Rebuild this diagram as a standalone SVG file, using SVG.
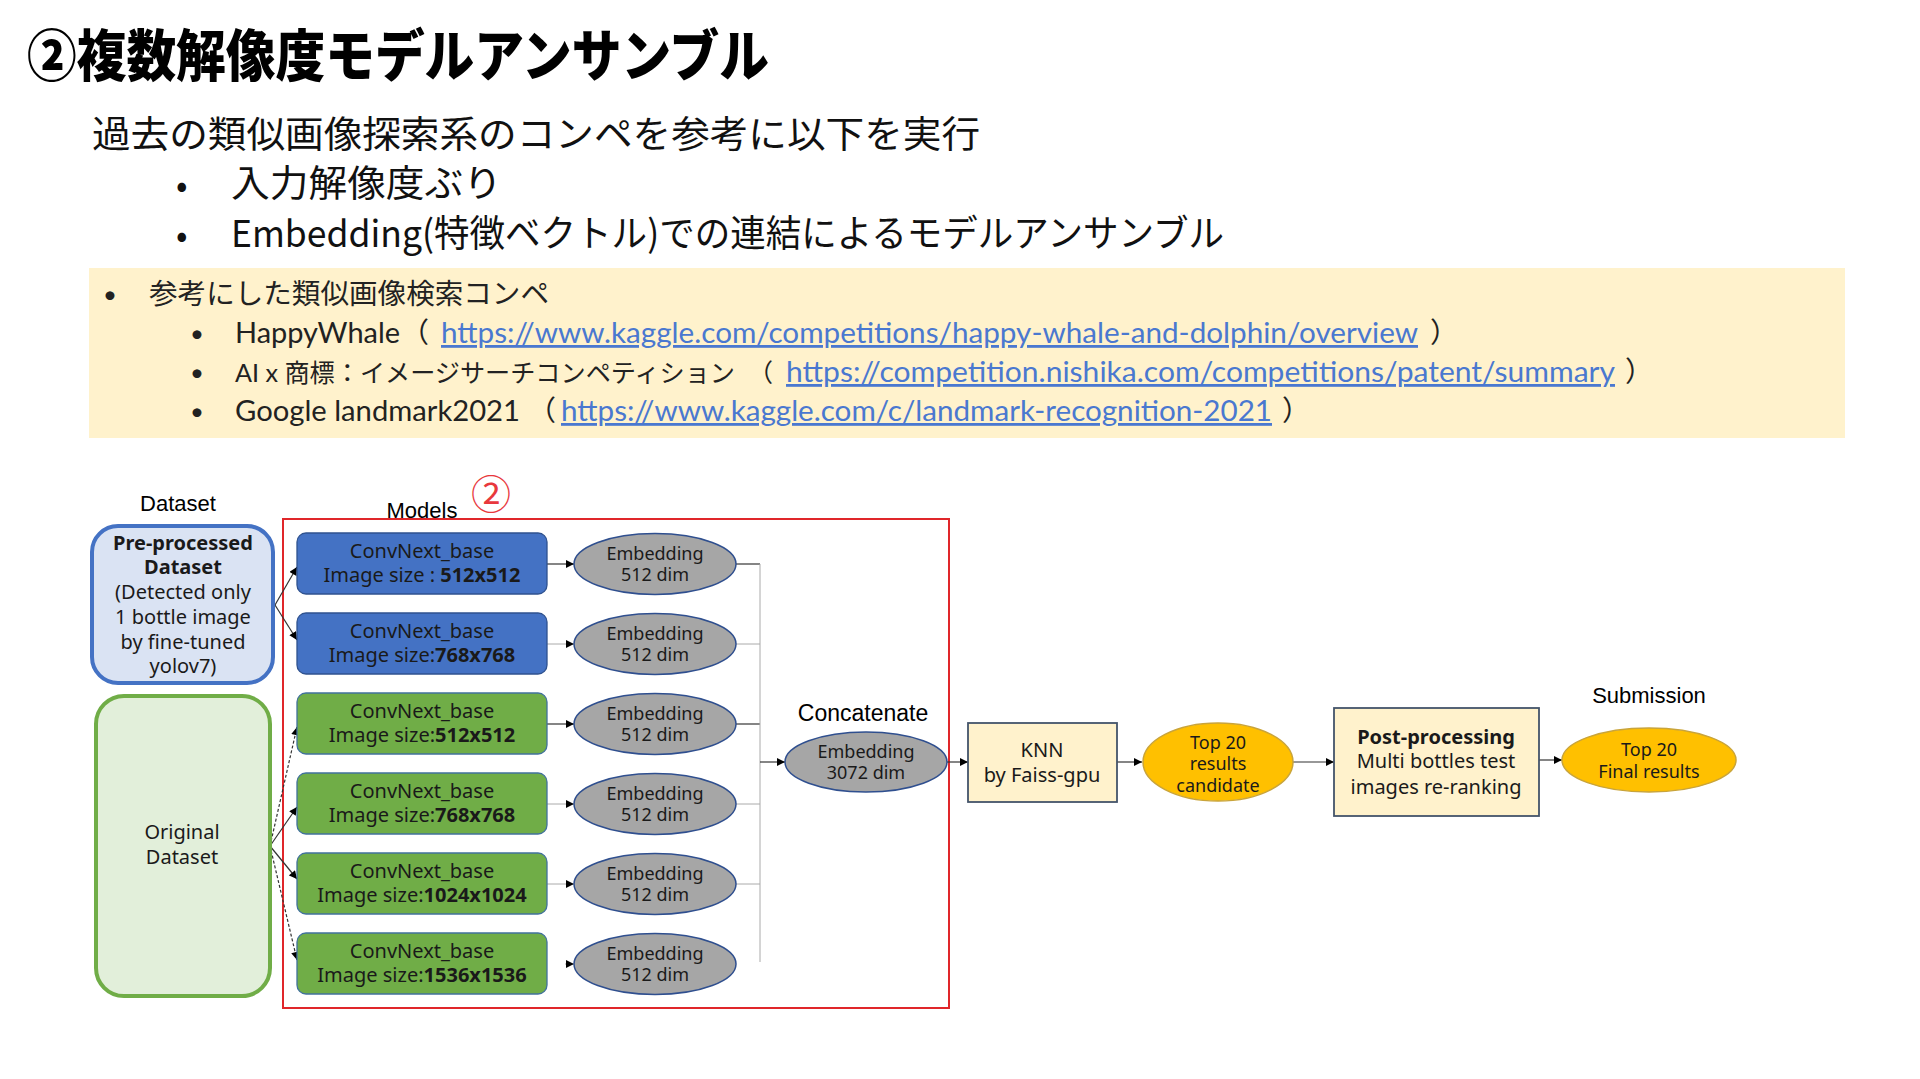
<svg xmlns="http://www.w3.org/2000/svg" width="1920" height="1079" viewBox="0 0 1920 1079">
<defs>
<style>
.jp{font-family:"Noto Sans CJK JP","Liberation Sans",sans-serif;}
.lt{font-family:"Lato","Noto Sans CJK JP",sans-serif;fill:#222;}
.ln{font-family:"Lato",sans-serif;fill:#4A78D0;text-decoration:underline;}
.ar{font-family:"Liberation Sans",Arial,sans-serif;fill:#000;}
.dg{font-family:"Noto Sans","Liberation Sans",sans-serif;fill:#1a1a1a;text-anchor:middle;}
.mb{stroke-width:1.3;}
.blue{fill:#4472C4;stroke:#2F528F;}
.green{fill:#70AD47;stroke:#41719C;}
.emb{fill:#A6A6A6;stroke:#2F4F8F;stroke-width:1.5;}
.cand{fill:#FFC000;stroke:#C9A43A;stroke-width:1.5;}
.pale{fill:#FFF2CC;stroke:#44546A;stroke-width:1.8;}
.con{fill:none;stroke:#333;stroke-width:1.2;}
.lite{fill:none;stroke:#aaa;stroke-width:1;}
.dash{fill:none;stroke:#333;stroke-width:1.2;stroke-dasharray:3 2;}
</style>
<marker id="ah" viewBox="0 0 10 10" refX="10" refY="5" markerWidth="9" markerHeight="8" markerUnits="userSpaceOnUse" orient="auto">
<path d="M0,0 L10,5 L0,10 z" fill="#000"/>
</marker>
</defs>
<rect width="1920" height="1079" fill="#fff"/>

<g id="header">
<text class="jp" x="27" y="76" font-size="56" font-weight="900" textLength="742" lengthAdjust="spacingAndGlyphs">②複数解像度モデルアンサンブル</text>
<text class="jp" x="92" y="148" font-size="37" fill="#111" textLength="888" lengthAdjust="spacingAndGlyphs">過去の類似画像探索系のコンペを参考に以下を実行</text>
<text class="jp" x="176" y="197" font-size="34" fill="#111">•</text>
<text class="jp" x="231" y="197" font-size="37" fill="#111" textLength="271" lengthAdjust="spacingAndGlyphs">入力解像度ぶり</text>
<text class="jp" x="176" y="247" font-size="34" fill="#111">•</text>
<text class="jp" x="231" y="247" font-size="37" fill="#111" textLength="993" lengthAdjust="spacingAndGlyphs">Embedding(特徴ベクトル)での連結によるモデルアンサンブル</text>
</g>

<g id="references">
<rect x="89" y="268" width="1756" height="170" fill="#FFF2CC"/>
<text class="lt" x="103" y="303" font-size="24">•</text>
<text class="lt" x="149" y="304" font-size="28" textLength="400" lengthAdjust="spacingAndGlyphs">参考にした類似画像検索コンペ</text>
<text class="lt" x="190" y="342" font-size="24">•</text>
<text class="lt" x="235" y="343" font-size="28" textLength="165" lengthAdjust="spacingAndGlyphs">HappyWhale</text>
<text class="lt" x="401" y="343" font-size="28">（</text>
<text class="ln" x="441" y="343" font-size="28" textLength="977" lengthAdjust="spacingAndGlyphs">https://www.kaggle.com/competitions/happy-whale-and-dolphin/overview</text>
<text class="lt" x="1430" y="343" font-size="28">）</text>
<text class="lt" x="190" y="381" font-size="24">•</text>
<text class="lt" x="235" y="382" font-size="25" textLength="500" lengthAdjust="spacingAndGlyphs">AI x 商標：イメージサーチコンペティション</text>
<text class="lt" x="748" y="382" font-size="25">（</text>
<text class="ln" x="786" y="382" font-size="28" textLength="829" lengthAdjust="spacingAndGlyphs">https://competition.nishika.com/competitions/patent/summary</text>
<text class="lt" x="1625" y="382" font-size="28">）</text>
<text class="lt" x="190" y="420" font-size="24">•</text>
<text class="lt" x="235" y="421" font-size="28" textLength="285" lengthAdjust="spacingAndGlyphs">Google landmark2021</text>
<text class="lt" x="528" y="421" font-size="28">（</text>
<text class="ln" x="561" y="421" font-size="28" textLength="711" lengthAdjust="spacingAndGlyphs">https://www.kaggle.com/c/landmark-recognition-2021</text>
<text class="lt" x="1282" y="421" font-size="28">）</text>
</g>

<g id="labels">
<text class="ar" x="178" y="511" font-size="22" text-anchor="middle">Dataset</text>
<text class="ar" x="422" y="518" font-size="22" text-anchor="middle">Models</text>
<text class="jp" x="491" y="509" font-size="40" fill="#E8383D" text-anchor="middle">②</text>
<text class="ar" x="863" y="721" font-size="23" text-anchor="middle">Concatenate</text>
<text class="ar" x="1649" y="703" font-size="22" text-anchor="middle">Submission</text>
</g>

<rect id="models-frame" x="283" y="519" width="666" height="489" fill="none" stroke="#E0262A" stroke-width="2"/>

<g id="connectors">
<path class="con" d="M275,605 L297,567" marker-end="url(#ah)"/>
<path class="con" d="M275,605 L297,640" marker-end="url(#ah)"/>
<path class="dash" d="M270,846 L297,727" marker-end="url(#ah)"/>
<path class="con" d="M270,846 L297,807" marker-end="url(#ah)"/>
<path class="con" d="M270,846 L297,879" marker-end="url(#ah)"/>
<path class="dash" d="M270,846 L297,960" marker-end="url(#ah)"/>
<path class="con" d="M547,564 L574,564" marker-end="url(#ah)"/>
<path class="lite" d="M547,644 L574,644" marker-end="url(#ah)"/>
<path class="con" d="M547,724 L574,724" marker-end="url(#ah)"/>
<path class="lite" d="M547,804 L574,804" marker-end="url(#ah)"/>
<path class="lite" d="M547,884 L574,884" marker-end="url(#ah)"/>
<path class="lite" d="M565,964 L574,964" marker-end="url(#ah)"/>
<path class="con" d="M736,564 L760,564"/>
<path class="lite" d="M736,644 L760,644"/>
<path class="con" d="M736,724 L760,724"/>
<path class="lite" d="M736,804 L760,804"/>
<path class="lite" d="M736,884 L760,884"/>
<path class="lite" d="M760,564 L760,962"/>
<path class="con" d="M760,762 L785,762" marker-end="url(#ah)"/>
<path class="con" d="M947,762 L968,762" marker-end="url(#ah)"/>
<path class="con" d="M1117,762 L1142,762" marker-end="url(#ah)"/>
<path class="con" d="M1293,762 L1334,762" marker-end="url(#ah)"/>
<path class="con" d="M1539,760 L1562,760" marker-end="url(#ah)"/>
</g>

<g id="preprocessed">
<rect x="92" y="526" width="181" height="157" rx="26" fill="#DAE3F3" stroke="#4472C4" stroke-width="4"/>
<text class="dg" x="183" y="550" font-size="20" font-weight="700">Pre-processed</text>
<text class="dg" x="183" y="574" font-size="20" font-weight="700">Dataset</text>
<text class="dg" x="183" y="599" font-size="20">(Detected only</text>
<text class="dg" x="183" y="624" font-size="20">1 bottle image</text>
<text class="dg" x="183" y="649" font-size="20">by fine-tuned</text>
<text class="dg" x="183" y="673" font-size="20">yolov7)</text>
</g>

<g id="original">
<rect x="96" y="696" width="174" height="300" rx="28" fill="#E2EFDA" stroke="#70AD47" stroke-width="4"/>
<text class="dg" x="182" y="839" font-size="20">Original</text>
<text class="dg" x="182" y="864" font-size="20">Dataset</text>
</g>

<g id="model1"><rect class="blue mb" x="297" y="533" width="250" height="61" rx="9"/>
<text class="dg" x="422" y="558" font-size="20">ConvNext_base</text>
<text class="dg" x="422" y="582" font-size="20">Image size : <tspan font-weight="700">512x512</tspan></text></g>
<g id="model2"><rect class="blue mb" x="297" y="613" width="250" height="61" rx="9"/>
<text class="dg" x="422" y="638" font-size="20">ConvNext_base</text>
<text class="dg" x="422" y="662" font-size="20">Image size:<tspan font-weight="700">768x768</tspan></text></g>
<g id="model3"><rect class="green mb" x="297" y="693" width="250" height="61" rx="9"/>
<text class="dg" x="422" y="718" font-size="20">ConvNext_base</text>
<text class="dg" x="422" y="742" font-size="20">Image size:<tspan font-weight="700">512x512</tspan></text></g>
<g id="model4"><rect class="green mb" x="297" y="773" width="250" height="61" rx="9"/>
<text class="dg" x="422" y="798" font-size="20">ConvNext_base</text>
<text class="dg" x="422" y="822" font-size="20">Image size:<tspan font-weight="700">768x768</tspan></text></g>
<g id="model5"><rect class="green mb" x="297" y="853" width="250" height="61" rx="9"/>
<text class="dg" x="422" y="878" font-size="20">ConvNext_base</text>
<text class="dg" x="422" y="902" font-size="20">Image size:<tspan font-weight="700">1024x1024</tspan></text></g>
<g id="model6"><rect class="green mb" x="297" y="933" width="250" height="61" rx="9"/>
<text class="dg" x="422" y="958" font-size="20">ConvNext_base</text>
<text class="dg" x="422" y="982" font-size="20">Image size:<tspan font-weight="700">1536x1536</tspan></text></g>

<g id="emb1"><ellipse class="emb" cx="655" cy="564" rx="81" ry="30.5"/>
<text class="dg" x="655" y="560" font-size="18">Embedding</text><text class="dg" x="655" y="581" font-size="18">512 dim</text></g>
<g id="emb2"><ellipse class="emb" cx="655" cy="644" rx="81" ry="30.5"/>
<text class="dg" x="655" y="640" font-size="18">Embedding</text><text class="dg" x="655" y="661" font-size="18">512 dim</text></g>
<g id="emb3"><ellipse class="emb" cx="655" cy="724" rx="81" ry="30.5"/>
<text class="dg" x="655" y="720" font-size="18">Embedding</text><text class="dg" x="655" y="741" font-size="18">512 dim</text></g>
<g id="emb4"><ellipse class="emb" cx="655" cy="804" rx="81" ry="30.5"/>
<text class="dg" x="655" y="800" font-size="18">Embedding</text><text class="dg" x="655" y="821" font-size="18">512 dim</text></g>
<g id="emb5"><ellipse class="emb" cx="655" cy="884" rx="81" ry="30.5"/>
<text class="dg" x="655" y="880" font-size="18">Embedding</text><text class="dg" x="655" y="901" font-size="18">512 dim</text></g>
<g id="emb6"><ellipse class="emb" cx="655" cy="964" rx="81" ry="30.5"/>
<text class="dg" x="655" y="960" font-size="18">Embedding</text><text class="dg" x="655" y="981" font-size="18">512 dim</text></g>

<g id="concat"><ellipse class="emb" cx="866" cy="762" rx="81" ry="30"/>
<text class="dg" x="866" y="758" font-size="18">Embedding</text><text class="dg" x="866" y="779" font-size="18">3072 dim</text></g>

<g id="knn"><rect class="pale" x="968" y="723" width="149" height="79"/>
<text class="dg" x="1042" y="757" font-size="20">KNN</text>
<text class="dg" x="1042" y="782" font-size="20">by Faiss-gpu</text></g>

<g id="top20"><ellipse class="cand" cx="1218" cy="762" rx="75" ry="39"/>
<text class="dg" x="1218" y="749" font-size="18">Top 20</text>
<text class="dg" x="1218" y="770" font-size="18">results</text>
<text class="dg" x="1218" y="792" font-size="18">candidate</text></g>

<g id="postproc"><rect class="pale" x="1334" y="708" width="205" height="108"/>
<text class="dg" x="1436" y="744" font-size="20" font-weight="700">Post-processing</text>
<text class="dg" x="1436" y="768" font-size="20">Multi bottles test</text>
<text class="dg" x="1436" y="794" font-size="20">images re-ranking</text></g>

<g id="final"><ellipse class="cand" cx="1649" cy="760" rx="87" ry="32"/>
<text class="dg" x="1649" y="756" font-size="18">Top 20</text>
<text class="dg" x="1649" y="778" font-size="18">Final results</text></g>
</svg>
